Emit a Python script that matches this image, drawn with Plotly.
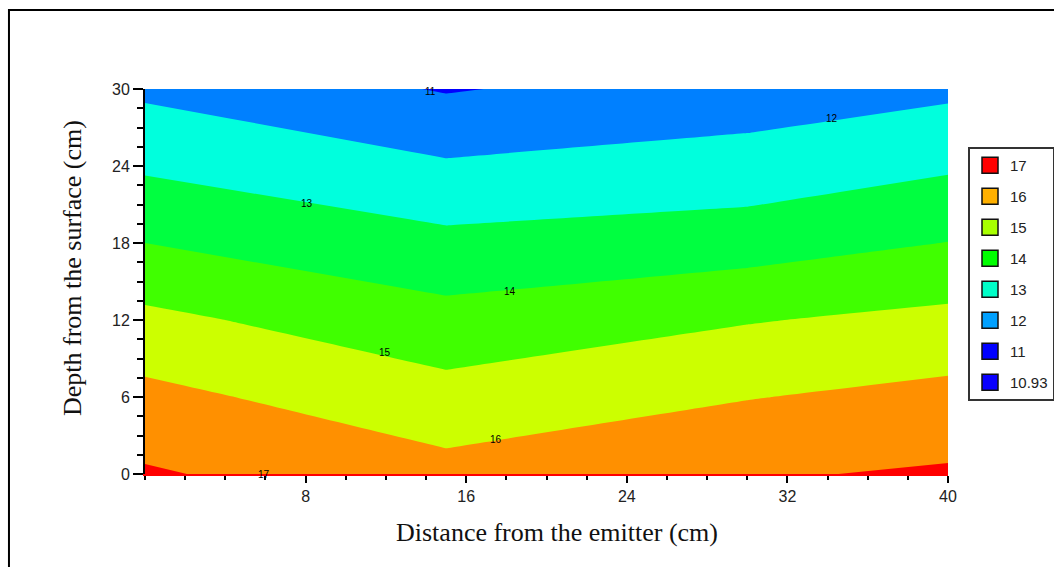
import plotly.graph_objects as go

# ---- data ----
x_dist = [0, 15, 30, 40]                 # distance from the emitter (cm)
y_depth = [0, 6, 12, 18, 24, 30]         # depth from the surface (cm)
# z[row][col] : row = depth, col = distance
z_vals = [
    [17.11, 16.32, 16.90, 17.12],
    [16.27, 15.36, 15.96, 16.28],
    [15.24, 14.34, 14.94, 15.26],
    [14.00, 13.26, 13.55, 14.02],
    [12.86, 12.12, 12.38, 12.87],
    [11.81, 10.93, 11.49, 11.80],
]
levels_start, levels_end, levels_step = 11, 17, 1

legend_labels = ["17", "16", "15", "14", "13", "12", "11", "10.93"]
legend_colors = ["#ff0000", "#ffb000", "#a8ff00", "#00ff00", "#00ffc8", "#00a0ff", "#0000ff", "#0a00ff"]

# band colours from lowest (<11) to highest (>17)
band_colors = ["#0000ff", "#0080ff", "#00ffdd", "#00ff40", "#40ff00", "#ccff00", "#ff9000", "#ff0000"]

contour_label_text = ["17", "16", "15", "14", "13", "12", "11"]
contour_label_pos = [(5.93, 0.0), (17.5, 2.65), (11.96, 9.43), (18.2, 14.2),
                     (8.07, 21.1), (34.2, 27.7), (14.2, 29.84)]

x_ticks = [8, 16, 24, 32, 40]
y_ticks = [0, 6, 12, 18, 24, 30]

x_title = "Distance from the emitter (cm)"
y_title = "Depth from the surface (cm)"

# ---- discrete colorscale (band k evaluated at k/7) ----
n = len(band_colors) - 1
cscale = []
for k, c in enumerate(band_colors):
    lo = max(0.0, (k - 0.5) / n)
    hi = min(1.0, (k + 0.5) / n)
    cscale.append([lo, c])
    cscale.append([hi, c])

fig = go.Figure()
fig.add_trace(go.Contour(
    x=x_dist, y=y_depth, z=z_vals,
    autocontour=False,
    contours=dict(start=levels_start, end=levels_end, size=levels_step,
                  coloring="fill", showlines=False),
    line=dict(width=0, smoothing=0),
    colorscale=cscale, showscale=False, showlegend=False,
    hoverinfo="skip",
))

for i, (lab, col) in enumerate(zip(legend_labels, legend_colors)):
    fig.add_trace(go.Scatter(
        x=[None], y=[None], mode="markers", name=lab, legendgroup=f"g{i}",
        marker=dict(symbol="square", size=16, color=col,
                    line=dict(color="#111111", width=1.5)),
    ))

for txt, (lx, ly) in zip(contour_label_text, contour_label_pos):
    fig.add_annotation(x=lx, y=ly, text=txt, showarrow=False,
                       font=dict(family="Liberation Sans", size=10, color="#000000"))

title_font = dict(family="Liberation Serif", size=26, color="#111111")
# axis titles (placed like the reference)
fig.add_annotation(xref="paper", yref="paper", x=0.513, y=-0.153,
                   xanchor="center", yanchor="middle", showarrow=False,
                   text=x_title, font=title_font)
fig.add_annotation(xref="paper", yref="paper", x=-0.0909, y=0.535,
                   xanchor="center", yanchor="middle", showarrow=False,
                   text=y_title, textangle=-90, font=title_font)

# outer frame
fig.add_shape(type="rect", xref="paper", yref="paper",
              x0=-0.1694, x1=1.139, y0=-0.262, y1=1.2052,
              line=dict(color="#000000", width=2), layer="below")

axis_font = dict(family="Liberation Sans", size=16, color="#222222")

fig.update_layout(
    width=1054, height=567,
    margin=dict(l=145, r=106, t=89, b=93),
    paper_bgcolor="white", plot_bgcolor="white",
    xaxis=dict(range=[0, 40], tickmode="array", tickvals=x_ticks,
               ticks="outside", ticklen=7, tickwidth=1.5, tickcolor="#000",
               minor=dict(dtick=2, tick0=0, ticks="outside", ticklen=4, tickwidth=1.5, tickcolor="#000"),
               showline=True, linecolor="#ff0000", linewidth=2, showgrid=False, zeroline=False,
               tickfont=axis_font, automargin=False),
    yaxis=dict(range=[0, 30], tickmode="array", tickvals=y_ticks,
               ticks="outside", ticklen=10, tickwidth=1.5, tickcolor="#000",
               minor=dict(dtick=1.5, tick0=0, ticks="outside", ticklen=6, tickwidth=1.5, tickcolor="#000"),
               showline=True, linecolor="#000", linewidth=2, showgrid=False, zeroline=False,
               tickfont=axis_font, automargin=False),
    legend=dict(xref="container", yref="container",
                x=968 / 1054, xanchor="left", y=1 - 147 / 567, yanchor="top",
                bordercolor="#333333", borderwidth=2, bgcolor="white",
                font=dict(family="Liberation Sans", size=15, color="#222222"),
                tracegroupgap=8.5, traceorder="grouped", itemsizing="trace"),
)

fig.write_html("out.html")
